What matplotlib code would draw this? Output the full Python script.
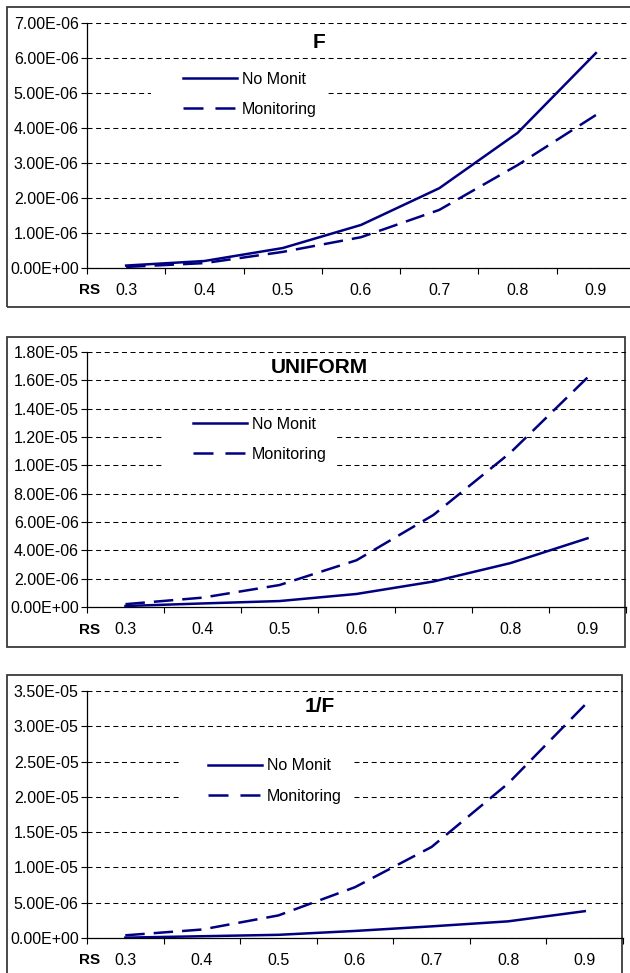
import numpy as np
import matplotlib
matplotlib.use("Agg")
import matplotlib.pyplot as plt
from matplotlib.patches import Rectangle
from matplotlib.lines import Line2D
from matplotlib.ticker import FixedLocator, NullFormatter, FixedFormatter

plt.rcParams['font.family'] = ['Liberation Sans', 'DejaVu Sans']
plt.rcParams['lines.scale_dashes'] = False

# ---- data ----
categories = ['0.3', '0.4', '0.5', '0.6', '0.7', '0.8', '0.9']
series_names = ['No Monit', 'Monitoring']

f_no_monit = [0.07e-6, 0.20e-6, 0.57e-6, 1.23e-6, 2.28e-6, 3.86e-6, 6.14e-6]
f_monitoring = [0.03e-6, 0.14e-6, 0.46e-6, 0.88e-6, 1.66e-6, 2.94e-6, 4.37e-6]

uni_no_monit = [0.07e-6, 0.25e-6, 0.42e-6, 0.92e-6, 1.80e-6, 3.10e-6, 4.85e-6]
uni_monitoring = [0.20e-6, 0.66e-6, 1.55e-6, 3.30e-6, 6.50e-6, 10.9e-6, 16.2e-6]

invf_no_monit = [0.05e-6, 0.25e-6, 0.45e-6, 1.00e-6, 1.65e-6, 2.36e-6, 3.80e-6]
invf_monitoring = [0.38e-6, 1.2e-6, 3.2e-6, 7.2e-6, 12.9e-6, 21.9e-6, 33.0e-6]

titles = ['F', 'UNIFORM', '1/F']
y_ticks = [
    [0, 1e-6, 2e-6, 3e-6, 4e-6, 5e-6, 6e-6, 7e-6],
    [0, 2e-6, 4e-6, 6e-6, 8e-6, 1e-5, 1.2e-5, 1.4e-5, 1.6e-5, 1.8e-5],
    [0, 5e-6, 1e-5, 1.5e-5, 2e-5, 2.5e-5, 3e-5, 3.5e-5],
]
x_title = 'RS'

# ---- layout (pixels) ----
W, H = 630, 973
fig = plt.figure(figsize=(W / 100, H / 100), dpi=100)

def fx(x):
    return x / W

def fy(y):
    return 1 - y / H

panels = [
    dict(ax=(87, 635, 23, 268), frame=(7, 7, 645, 307), title=(319, 42),
         leg=(175, 94.5), legbox=(151, 62, 325, 123), rs=(90, 290),
         data=(f_no_monit, f_monitoring)),
    dict(ax=(87, 626, 352, 607), frame=(7, 337, 625, 647), title=(319, 367),
         leg=(185, 439.5), legbox=(163, 411, 334, 481), rs=(90, 630),
         data=(uni_no_monit, uni_monitoring)),
    dict(ax=(87, 623, 691, 938), frame=(7, 675, 622, 990), title=(320, 706),
         leg=(200, 781), legbox=(180, 745, 351, 815), rs=(90, 960),
         data=(invf_no_monit, invf_monitoring)),
]

navy = '#000080'
x = np.arange(len(categories))
data_dash = (0, (14, 6.5))
legend_dash = (0, (14.4, 8.6))
lw = 1.8

for i, p in enumerate(panels):
    # outer frame
    x0, y0, x1, y1 = p['frame']
    fig.add_artist(Rectangle((fx(x0), fy(y1)), fx(x1) - fx(x0), fy(y0) - fy(y1),
                             transform=fig.transFigure, facecolor='none',
                             edgecolor='#3a3a3a', linewidth=1.3, zorder=0))
    l, r, t, b = p['ax']
    ax = fig.add_axes([fx(l), fy(b), fx(r) - fx(l), fy(t) - fy(b)])
    ax.patch.set_alpha(0)
    no_m, mon = p['data']
    ax.plot(x, no_m, color=navy, lw=lw, zorder=3)
    ax.plot(x, mon, color=navy, lw=lw, linestyle=data_dash, zorder=3)
    ax.set_xlim(-0.5, len(categories) - 0.5)
    yt = y_ticks[i]
    ax.set_ylim(yt[0], yt[-1])
    ax.set_yticks(yt)
    ax.set_yticklabels(['%.2E' % v for v in yt])
    ax.yaxis.grid(True, color='black', linestyle=(0, (3.6, 2.6)), linewidth=0.75)
    ax.set_axisbelow(True)
    ax.xaxis.set_major_locator(FixedLocator(np.arange(-0.5, len(categories), 1.0)))
    ax.xaxis.set_major_formatter(NullFormatter())
    ax.xaxis.set_minor_locator(FixedLocator(x))
    ax.xaxis.set_minor_formatter(FixedFormatter(categories))
    ax.tick_params(axis='x', which='major', length=4, width=0.8, direction='out')
    ax.tick_params(axis='x', which='minor', length=0, pad=11, labelsize=11.5)
    ax.tick_params(axis='y', length=4, width=0.8, direction='out', pad=2,
                   labelsize=11.5)
    for s in ['top', 'right']:
        ax.spines[s].set_visible(False)
    for s in ['left', 'bottom']:
        ax.spines[s].set_linewidth(0.9)
        ax.spines[s].set_color('black')
    # legend white box (inside axes, above gridlines)
    bx0, by0, bx1, by1 = p['legbox']
    ax.add_patch(Rectangle((fx(bx0), fy(by1)), fx(bx1) - fx(bx0), fy(by0) - fy(by1),
                           transform=fig.transFigure, facecolor='white',
                           edgecolor='none', zorder=1.5, clip_on=False))
    handles = [Line2D([], [], color=navy, lw=lw),
               Line2D([], [], color=navy, lw=lw, linestyle=legend_dash)]
    ax.legend(handles, series_names, loc='center left',
              bbox_to_anchor=(fx(p['leg'][0]), fy(p['leg'][1])),
              bbox_transform=fig.transFigure, frameon=False, borderpad=0,
              handlelength=3.4, handletextpad=0.3, labelspacing=0.95,
              fontsize=11.5)
    fig.text(fx(p['title'][0]), fy(p['title'][1]), titles[i], ha='center', va='center',
             fontsize=15, fontweight='bold')
    fig.text(fx(p['rs'][0]), fy(p['rs'][1]), x_title, ha='center', va='center',
             fontsize=11, fontweight='bold')

fig.savefig('out.png', dpi=100)
